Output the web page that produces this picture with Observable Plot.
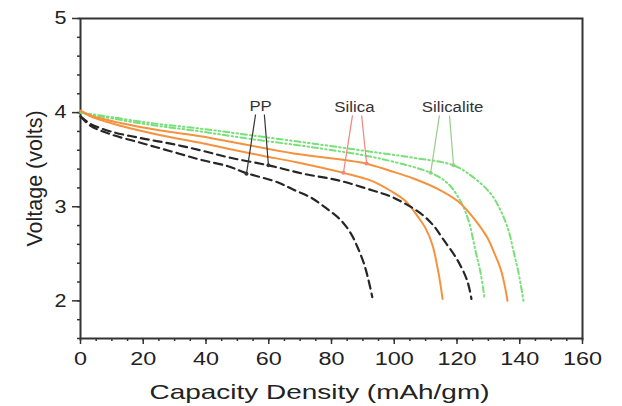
<!DOCTYPE html>
<html>
<head>
<meta charset="utf-8">
<script src="https://cdn.jsdelivr.net/npm/d3@7"></script>
<script src="https://cdn.jsdelivr.net/npm/@observablehq/plot@0.6"></script>
<style>
  html, body { margin: 0; padding: 0; background: #fff; }
  #chart { width: 622px; height: 406px; }
</style>
</head>
<body>
<div id="chart"></div>
<script>
// ---- Data ----
const ppLowCap  = [0, 3.2, 9.6, 19.1, 28.7, 38.2, 47.0, 52.6, 62.8, 67.9, 73.3, 78.1, 82.9, 86.1, 88.3, 90.3, 91.8, 93.0];
const ppLowV    = [3.96, 3.86, 3.77, 3.68, 3.59, 3.50, 3.43, 3.36, 3.26, 3.18, 3.10, 2.99, 2.86, 2.72, 2.57, 2.40, 2.22, 2.04];

const ppHighCap = [0, 3.2, 9.6, 19.1, 28.7, 38.2, 47.8, 59.9, 71.1, 82.2, 93.4, 98.8, 103.6, 108.4, 112.5, 115.7, 120.2, 123.3, 124.6];
const ppHighV   = [3.96, 3.88, 3.80, 3.73, 3.67, 3.60, 3.52, 3.44, 3.35, 3.28, 3.17, 3.11, 3.03, 2.93, 2.80, 2.65, 2.43, 2.21, 2.02];

const silicaLowCap  = [0, 3.2, 12.7, 25.5, 38.2, 47.8, 58.3, 69.2, 83.8, 92.4, 98.8, 103.6, 107.4, 110.0, 112.2, 113.8, 114.7, 115.4];
const silicaLowV    = [4.02, 3.96, 3.86, 3.76, 3.68, 3.61, 3.54, 3.47, 3.36, 3.28, 3.17, 3.06, 2.90, 2.77, 2.59, 2.35, 2.18, 2.02];

const silicaHighCap = [0, 3.2, 12.7, 25.5, 38.2, 47.8, 69.2, 90.8, 98.8, 106.1, 113.8, 120.2, 125.3, 129.7, 131.6, 133.9, 135.1, 136.1];
const silicaHighV   = [4.02, 3.97, 3.89, 3.81, 3.75, 3.69, 3.56, 3.46, 3.38, 3.30, 3.19, 3.06, 2.88, 2.67, 2.53, 2.34, 2.18, 2.00];

const silicaliteLowCap  = [0, 6.4, 22.3, 38.2, 54.2, 74.3, 95.6, 111.6, 117.0, 121.1, 123.7, 125.9, 127.5, 128.8];
const silicaliteLowV    = [4.00, 3.96, 3.87, 3.80, 3.72, 3.63, 3.51, 3.36, 3.25, 3.06, 2.85, 2.53, 2.30, 2.02];

const silicaliteHighCap = [0, 6.4, 22.3, 38.2, 54.2, 74.3, 95.6, 106.1, 118.9, 125.3, 130.7, 133.9, 136.4, 138.0, 139.6, 141.2];
const silicaliteHighV   = [4.00, 3.97, 3.89, 3.83, 3.76, 3.67, 3.57, 3.52, 3.44, 3.31, 3.14, 2.96, 2.75, 2.53, 2.30, 2.00];

// annotation labels and their pointer lines
const labelNames = ["PP", "Silica", "Silicalite"];
const labelCap   = [57.4, 87.3, 118.6];
const labelV     = [4.06, 4.05, 4.05];
const pointerGroup = ["PP", "PP", "Silica", "Silica", "Silicalite", "Silicalite"];
const pointerCap1  = [55.8, 58.6, 86.7, 89.6, 114.4, 117.6];
const pointerV1    = [3.98, 3.98, 3.97, 3.97, 3.97, 3.97];
const pointerCap2  = [52.9, 59.9, 83.8, 91.2, 111.6, 118.9];
const pointerV2    = [3.35, 3.44, 3.36, 3.46, 3.36, 3.44];

// ticks
const xMajorTicks = [0, 20, 40, 60, 80, 100, 120, 140, 160];
const xMinorTicks = d3.range(0, 161, 5);
const yMajorTicks = [2, 3, 4, 5];
const yMinorTicks = [1.6, 1.8, 2.0, 2.2, 2.4, 2.6, 2.8, 3.0, 3.2, 3.4, 3.6, 3.8, 4.0, 4.2, 4.4, 4.6, 4.8, 5.0];

// ---- build tables ----
const zip = (xs, ys) => xs.map((x, i) => ({cap: x, v: ys[i]}));
const ppLow = zip(ppLowCap, ppLowV);
const ppHigh = zip(ppHighCap, ppHighV);
const silicaLow = zip(silicaLowCap, silicaLowV);
const silicaHigh = zip(silicaHighCap, silicaHighV);
const silicaliteLow = zip(silicaliteLowCap, silicaliteLowV);
const silicaliteHigh = zip(silicaliteHighCap, silicaliteHighV);
const labels = labelNames.map((t, i) => ({t, cap: labelCap[i], v: labelV[i]}));
const pointers = pointerGroup.map((g, i) => ({g, x1: pointerCap1[i], y1: pointerV1[i], x2: pointerCap2[i], y2: pointerV2[i]}));

const pointerColor = {"PP": "#333333", "Silica": "#f0857a", "Silicalite": "#98cc88"};

const black = "#262626", orange = "#f5923e", green = "#78e078";
const curve = "catmull-rom";

const chart = Plot.plot({
  width: 622,
  height: 406,
  marginLeft: 80,
  marginRight: 40,
  marginTop: 18,
  marginBottom: 68,
  style: {fontFamily: "'Liberation Sans', Arial, sans-serif", fontSize: "18px", color: "#222", background: "#fff"},
  x: {domain: [0, 160]},
  y: {domain: [1.6, 5]},
  marks: [
    // minor ticks
    Plot.axisX({ticks: xMinorTicks, tickSize: 3, tickFormat: () => "", label: null, stroke: "#333", strokeWidth: 1.5}),
    Plot.axisY({ticks: yMinorTicks, tickSize: 3, tickFormat: () => "", label: null, stroke: "#333", strokeWidth: 1.5}),
    // major ticks
    Plot.axisX({ticks: xMajorTicks, tickSize: 6, tickPadding: 8, fontSize: 18, stroke: "#333", strokeWidth: 1.5,
      tickFormat: d3.format("d"),
      label: "Capacity Density (mAh/gm)", labelAnchor: "center", labelOffset: 60, labelArrow: false}),
    Plot.axisY({ticks: yMajorTicks, tickSize: 8, tickPadding: 6, fontSize: 18, stroke: "#333", strokeWidth: 1.5,
      tickFormat: d3.format("d"),
      label: "Voltage (volts)", labelAnchor: "center", labelOffset: 54, labelArrow: false}),
    Plot.frame({stroke: "#333", strokeWidth: 2}),
    // curves
    Plot.line(silicaliteHigh, {x: "cap", y: "v", stroke: green, strokeWidth: 2, strokeDasharray: "6,3,1.5,3,1.5,3", curve}),
    Plot.line(silicaliteLow, {x: "cap", y: "v", stroke: green, strokeWidth: 2, strokeDasharray: "6,3,1.5,3,1.5,3", curve}),
    Plot.line(silicaHigh, {x: "cap", y: "v", stroke: orange, strokeWidth: 2, curve}),
    Plot.line(silicaLow, {x: "cap", y: "v", stroke: orange, strokeWidth: 2, curve}),
    Plot.line(ppHigh, {x: "cap", y: "v", stroke: black, strokeWidth: 2.2, strokeDasharray: "8,5", curve}),
    Plot.line(ppLow, {x: "cap", y: "v", stroke: black, strokeWidth: 2.2, strokeDasharray: "8,5", curve}),
    // annotations
    Plot.link(pointers, {x1: "x1", y1: "y1", x2: "x2", y2: "y2", stroke: d => pointerColor[d.g], strokeWidth: 1.2}),
    Plot.dot(pointers, {x: "x2", y: "y2", r: 2, fill: d => pointerColor[d.g], stroke: "none"}),
    Plot.text(labels, {x: "cap", y: "v", text: "t", fontSize: 14, fill: "#333"})
  ]
});
document.getElementById("chart").appendChild(chart);

// The reference text is horizontally wider than the font; widen glyphs.
function widen(selector, k, fontSize, dx) {
  chart.querySelectorAll(selector).forEach(g => {
    g.querySelectorAll("text").forEach(t => {
      if (fontSize) t.setAttribute("font-size", fontSize);
      if (dx) t.setAttribute("dx", dx);
      const len = t.getComputedTextLength();
      if (len > 0) {
        t.setAttribute("textLength", (len * k).toFixed(1));
        t.setAttribute("lengthAdjust", "spacingAndGlyphs");
      }
    });
  });
}
widen('[aria-label="x-axis tick label"]', 1.3);
widen('[aria-label="y-axis tick label"]', 1.2);
widen('[aria-label="x-axis label"]', 1.33, 21, -12);
widen('[aria-label="y-axis label"]', 1.0, 21.5);
widen('[aria-label="text"]', 1.2);
</script>
</body>
</html>
